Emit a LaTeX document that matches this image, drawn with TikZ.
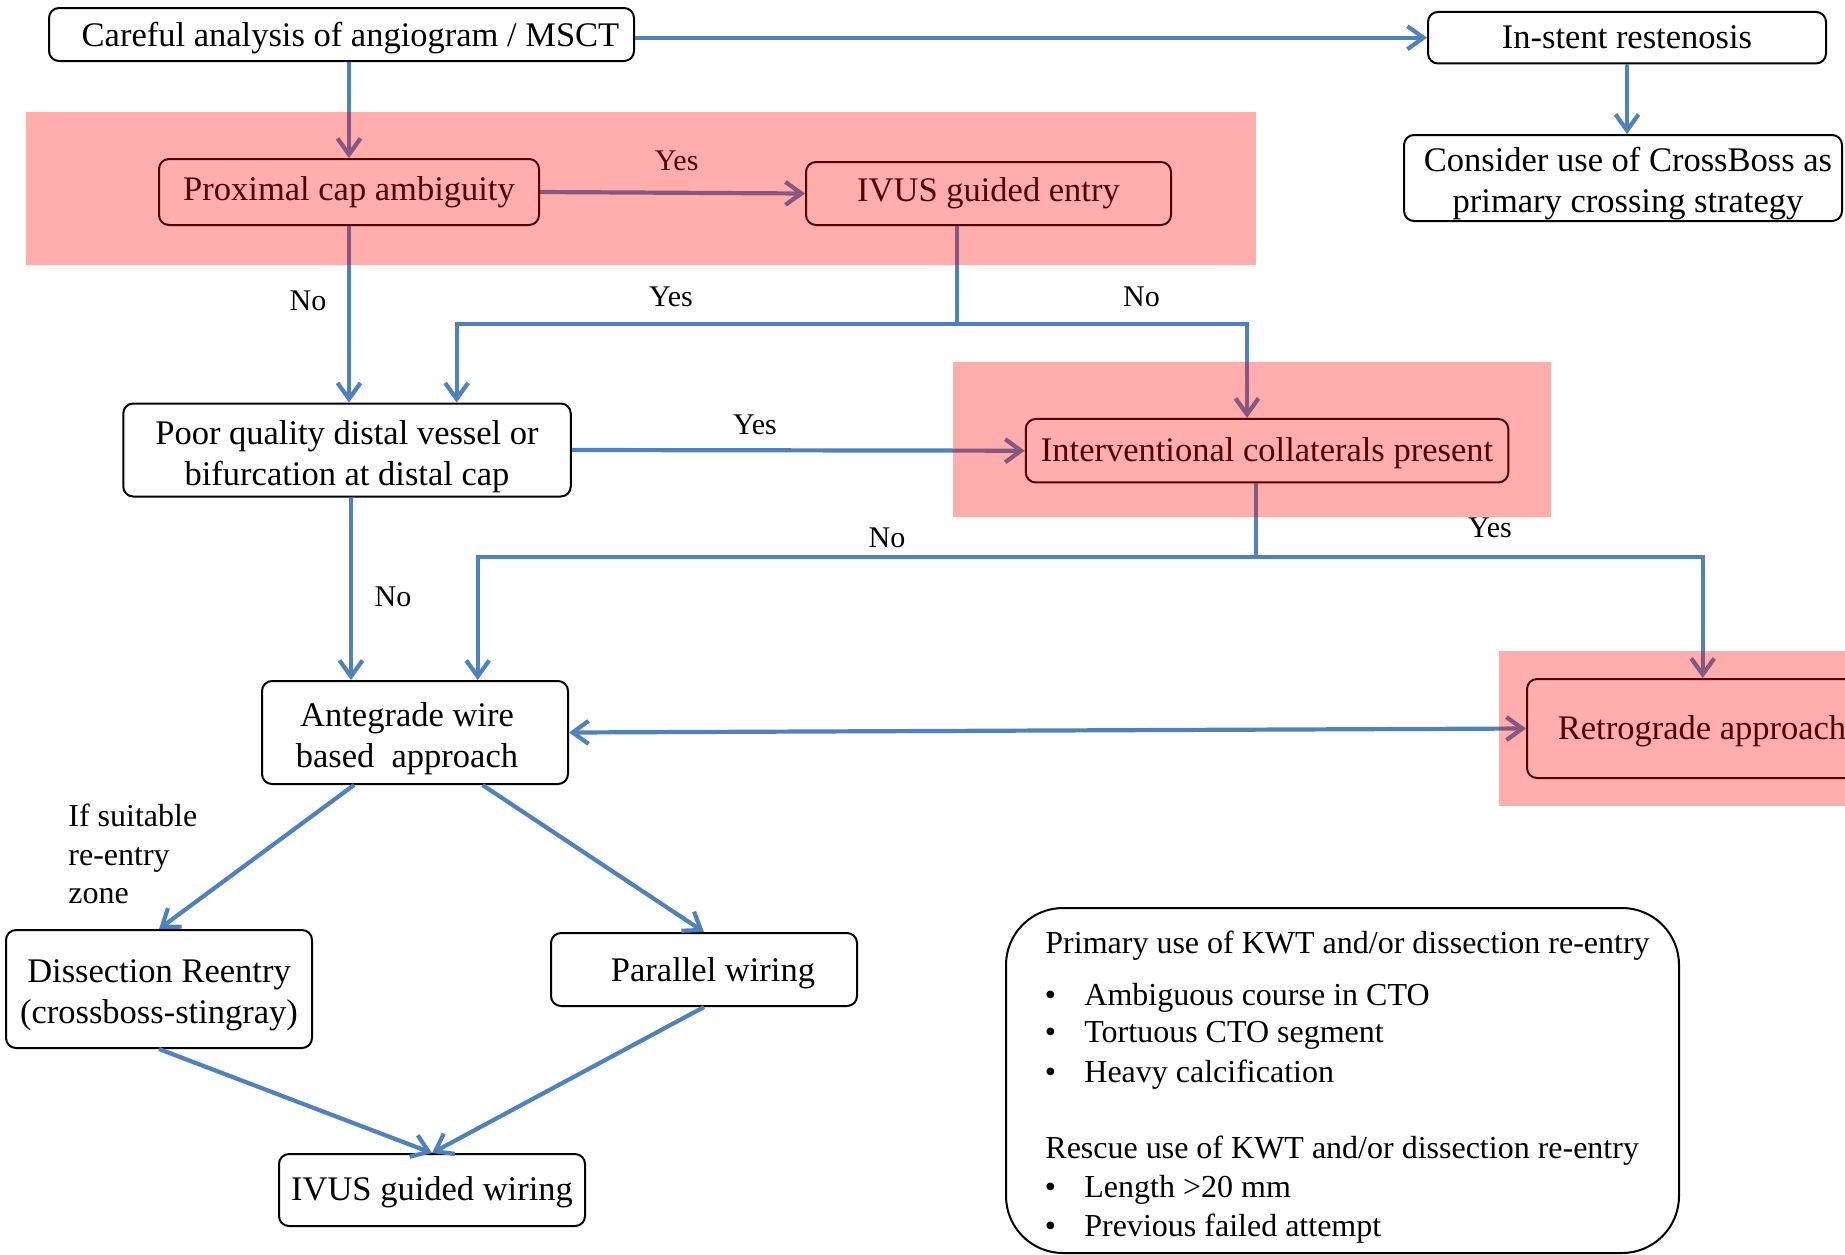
\documentclass[tikz,border=0pt]{standalone}
\usepackage{fontspec}
\setmainfont{Liberation Serif}
\usetikzlibrary{arrows.meta}
\definecolor{lnblue}{RGB}{79,129,189}
\newcommand{\toplift}{\rule{0pt}{18.2pt}}
\begin{document}
\begin{tikzpicture}[x=0.5pt,y=-0.5pt,
  box/.style={draw=black, line width=1pt, rounded corners=5pt, fill=white, inner sep=0pt, align=center, font=\fontsize{17.25}{21}\selectfont},
  mbox/.style={box, font=\fontsize{17.25}{20.5}\selectfont},
  arr/.style={draw=lnblue, line width=2.1pt, -{Straight Barb[length=8pt,width=11.5pt]}},
  arrtwo/.style={draw=lnblue, line width=2.1pt, {Straight Barb[length=8pt,width=11.5pt]}-{Straight Barb[length=8pt,width=11.5pt]}},
  ln/.style={draw=lnblue, line width=2.1pt},
  lbl/.style={inner sep=0pt, font=\fontsize{15}{18}\selectfont},
  notel/.style={inner sep=0pt, anchor=west, font=\fontsize{16}{19}\selectfont},
  pinkov/.style={fill=red, opacity=0.32}
]
\useasboundingbox (0,0) rectangle (1845,1254);

% boxes
\node[box, text depth=-2pt, minimum width=292.5pt, minimum height=26.5pt] (careful) at (341.5,34.5) {\hspace*{9pt}Careful analysis of angiogram / MSCT};
\node[box, minimum width=199pt, minimum height=25.75pt] (instent) at (1627,37.7) {In-stent restenosis};
\node[mbox, minimum width=219pt, minimum height=43pt] (consider) at (1623,178) {\toplift\hspace*{5pt}Consider use of CrossBoss as\\\hspace*{5pt}primary crossing strategy};
\node[box, minimum width=190pt, minimum height=33pt] (prox) at (349,192) {Proximal cap ambiguity};
\node[box, minimum width=182.5pt, minimum height=31.5pt] (ivusE) at (988.5,193.5) {IVUS guided entry};
\node[mbox, minimum width=223.75pt, minimum height=46.5pt] (poor) at (347,450) {\toplift Poor quality distal vessel or\\bifurcation at distal cap};
\node[box, text depth=1.5pt, minimum width=241.25pt, minimum height=31.75pt] (interv) at (1267,450.7) {Interventional collaterals present};
\node[mbox, minimum width=153pt, minimum height=51.5pt] (ante) at (415,732.5) {\toplift Antegrade wire\hspace*{8pt}\\based~~approach\hspace*{8pt}};
\node[box, text depth=1pt, minimum width=175pt, minimum height=49.5pt] (retro) at (1702,728.5) {Retrograde approach};
\node[mbox, minimum width=153pt, minimum height=59pt] (dissect) at (159,989) {\toplift Dissection Reentry\\(crossboss-stingray)};
\node[box, text depth=-4.2pt, minimum width=153pt, minimum height=36.5pt] (parallel) at (704,969.5) {\hspace*{9pt}Parallel wiring};
\node[box, text depth=1pt, minimum width=153pt, minimum height=36pt] (ivusW) at (432,1190) {IVUS guided wiring};
\node[box, rounded corners=28.5pt, minimum width=336.5pt, minimum height=172.5pt] (note) at (1342.5,1080.5) {};

% note text
\node[notel] (n1) at (1045,946) {Primary use of KWT and/or dissection re-entry};
\node[notel] (n2) at (1044.5,997.5) {\makebox[19.75pt][l]{\textbullet}Ambiguous course in CTO};
\node[notel] (n3) at (1044.5,1035.5) {\makebox[19.75pt][l]{\textbullet}Tortuous CTO segment};
\node[notel] (n4) at (1044.5,1074.5) {\makebox[19.75pt][l]{\textbullet}Heavy calcification};
\node[notel] (n5) at (1045,1150.5) {Rescue use of KWT and/or dissection re-entry};
\node[notel] (n6) at (1044.5,1189.5) {\makebox[19.75pt][l]{\textbullet}Length >20 mm};
\node[notel] (n7) at (1044.5,1228.5) {\makebox[19.75pt][l]{\textbullet}Previous failed attempt};

% connectors
\draw[arr] (careful.east |- instent.west) -- (instent.west);
\draw[arr] (prox.north |- careful.south) -- (prox.north);
\draw[arr] (instent.south) -- (instent.south |- consider.north);
\draw[arr] (prox.east) -- (ivusE.west);
\draw[arr] (prox.south) -- (prox.south |- poor.north);

\coordinate (s1) at (956.6,323.6);
\coordinate (s1l) at (456.6,323.6);
\coordinate (s1r) at (1247,323.6);
\draw[ln] (s1 |- ivusE.south) -- (s1);
\draw[arr] (s1) -- (s1l) -- (s1l |- poor.north);
\draw[arr] (s1) -- (s1r) -- (s1r |- interv.north);

\draw[arr] (poor.east) -- (interv.west);
\draw[arr] ([xshift=2pt]poor.south) -- ([xshift=2pt]poor.south |- ante.north);

\coordinate (s2) at (1255.6,556.6);
\coordinate (s2l) at (477.7,556.6);
\coordinate (s2r) at (1702.7,556.6);
\draw[ln] (s2 |- interv.south) -- (s2);
\draw[arr] (s2) -- (s2l) -- (s2l |- ante.north);
\draw[arr] (s2) -- (s2r) -- (s2r |- retro.north);

\draw[arrtwo] (ante.east) -- (retro.west);
\draw[arr] ([xshift=-30.5pt]ante.south) -- (dissect.north);
\draw[arr] ([xshift=33.75pt]ante.south) -- (parallel.north);
\draw[arr] (dissect.south) -- (ivusW.north);
\draw[arr] (parallel.south) -- (ivusW.north);

% labels
\node[lbl] (l1) at (676.6,161) {Yes};
\node[lbl] (l2) at (308,301) {No};
\node[lbl] (l3) at (671,296.5) {Yes};
\node[lbl] (l4) at (1141.5,296.5) {No};
\node[lbl] (l5) at (755,425) {Yes};
\node[lbl] (l6) at (887,538) {No};
\node[lbl] (l7) at (1490,528) {Yes};
\node[lbl] (l8) at (393,596.6) {No};
\node[lbl, anchor=west, align=left, font=\fontsize{16}{19.25}\selectfont] (l9) at (68,854) {If suitable\\re-entry\\zone};

% pink overlays
\fill[pinkov] (26,112) rectangle (1256,265);
\fill[pinkov] (953,362) rectangle (1551,516.6);
\fill[pinkov] (1499,651) rectangle (1845,806);
\end{tikzpicture}
\end{document}
